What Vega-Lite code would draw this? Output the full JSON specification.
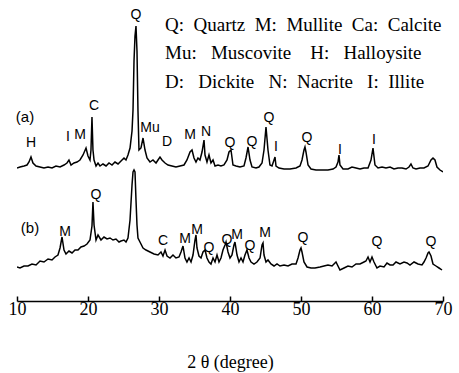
{
  "$schema": "https://vega.github.io/schema/vega-lite/v6.json",
  "width": 426,
  "height": 296,
  "autosize": "none",
  "padding": {"left": 17, "top": 5, "right": 16, "bottom": 72},
  "background": "white",
  "config": {"view": {"stroke": null}},
  "datasets": {
    "a": [
      {"theta": 10.0, "intensity": 133}, {"theta": 10.42, "intensity": 134}, {"theta": 10.99, "intensity": 135}, {"theta": 11.41, "intensity": 136},
      {"theta": 11.69, "intensity": 139}, {"theta": 11.97, "intensity": 144}, {"theta": 12.25, "intensity": 138}, {"theta": 12.68, "intensity": 135},
      {"theta": 13.24, "intensity": 134}, {"theta": 13.8, "intensity": 133}, {"theta": 14.37, "intensity": 134}, {"theta": 14.93, "intensity": 133},
      {"theta": 15.49, "intensity": 135}, {"theta": 16.06, "intensity": 134}, {"theta": 16.62, "intensity": 136}, {"theta": 17.04, "intensity": 138},
      {"theta": 17.32, "intensity": 141}, {"theta": 17.61, "intensity": 136}, {"theta": 18.03, "intensity": 138}, {"theta": 18.45, "intensity": 139},
      {"theta": 18.87, "intensity": 141}, {"theta": 19.3, "intensity": 146}, {"theta": 19.72, "intensity": 153}, {"theta": 20.0, "intensity": 145},
      {"theta": 20.28, "intensity": 141}, {"theta": 20.42, "intensity": 151}, {"theta": 20.56, "intensity": 184}, {"theta": 20.7, "intensity": 151},
      {"theta": 20.85, "intensity": 141}, {"theta": 21.13, "intensity": 135}, {"theta": 21.41, "intensity": 138}, {"theta": 21.69, "intensity": 135},
      {"theta": 22.11, "intensity": 137}, {"theta": 22.54, "intensity": 135}, {"theta": 22.96, "intensity": 138}, {"theta": 23.38, "intensity": 136},
      {"theta": 23.8, "intensity": 139}, {"theta": 24.23, "intensity": 137}, {"theta": 24.65, "intensity": 140}, {"theta": 25.07, "intensity": 143},
      {"theta": 25.35, "intensity": 141}, {"theta": 25.63, "intensity": 146}, {"theta": 25.92, "intensity": 153}, {"theta": 26.2, "intensity": 170},
      {"theta": 26.34, "intensity": 191}, {"theta": 26.48, "intensity": 240}, {"theta": 26.62, "intensity": 265}, {"theta": 26.76, "intensity": 275},
      {"theta": 26.9, "intensity": 250}, {"theta": 27.04, "intensity": 190}, {"theta": 27.18, "intensity": 151}, {"theta": 27.46, "intensity": 153},
      {"theta": 27.75, "intensity": 163}, {"theta": 28.03, "intensity": 151}, {"theta": 28.31, "intensity": 143}, {"theta": 28.73, "intensity": 139},
      {"theta": 29.15, "intensity": 141}, {"theta": 29.58, "intensity": 138}, {"theta": 29.86, "intensity": 141}, {"theta": 30.14, "intensity": 144},
      {"theta": 30.42, "intensity": 141}, {"theta": 30.85, "intensity": 138}, {"theta": 31.27, "intensity": 136}, {"theta": 31.83, "intensity": 135},
      {"theta": 32.39, "intensity": 134}, {"theta": 32.96, "intensity": 135}, {"theta": 33.52, "intensity": 136}, {"theta": 33.94, "intensity": 141},
      {"theta": 34.37, "intensity": 149}, {"theta": 34.65, "intensity": 151}, {"theta": 34.93, "intensity": 143}, {"theta": 35.21, "intensity": 139},
      {"theta": 35.49, "intensity": 143}, {"theta": 35.77, "intensity": 141}, {"theta": 36.06, "intensity": 149}, {"theta": 36.34, "intensity": 161},
      {"theta": 36.48, "intensity": 146}, {"theta": 36.76, "intensity": 139}, {"theta": 37.04, "intensity": 146}, {"theta": 37.32, "intensity": 138},
      {"theta": 37.61, "intensity": 141}, {"theta": 37.89, "intensity": 135}, {"theta": 38.31, "intensity": 136}, {"theta": 38.73, "intensity": 135},
      {"theta": 39.15, "intensity": 136}, {"theta": 39.58, "intensity": 141}, {"theta": 39.86, "intensity": 149}, {"theta": 40.14, "intensity": 151},
      {"theta": 40.42, "intensity": 136}, {"theta": 40.85, "intensity": 135}, {"theta": 41.41, "intensity": 134}, {"theta": 41.97, "intensity": 135},
      {"theta": 42.25, "intensity": 143}, {"theta": 42.54, "intensity": 154}, {"theta": 42.82, "intensity": 141}, {"theta": 43.1, "intensity": 134},
      {"theta": 43.66, "intensity": 133}, {"theta": 44.08, "intensity": 134}, {"theta": 44.51, "intensity": 138}, {"theta": 44.79, "intensity": 151},
      {"theta": 45.07, "intensity": 174}, {"theta": 45.35, "intensity": 151}, {"theta": 45.63, "intensity": 136}, {"theta": 45.92, "intensity": 135},
      {"theta": 46.2, "intensity": 141}, {"theta": 46.34, "intensity": 144}, {"theta": 46.48, "intensity": 135}, {"theta": 46.9, "intensity": 133},
      {"theta": 47.61, "intensity": 132}, {"theta": 48.45, "intensity": 132}, {"theta": 49.3, "intensity": 133}, {"theta": 49.86, "intensity": 135},
      {"theta": 50.14, "intensity": 141}, {"theta": 50.42, "intensity": 151}, {"theta": 50.56, "intensity": 154}, {"theta": 50.7, "intensity": 149},
      {"theta": 50.99, "intensity": 136}, {"theta": 51.41, "intensity": 132}, {"theta": 52.11, "intensity": 131}, {"theta": 52.96, "intensity": 131},
      {"theta": 53.8, "intensity": 131}, {"theta": 54.51, "intensity": 132}, {"theta": 54.93, "intensity": 134}, {"theta": 55.21, "intensity": 139},
      {"theta": 55.35, "intensity": 146}, {"theta": 55.49, "intensity": 136}, {"theta": 55.92, "intensity": 132}, {"theta": 56.62, "intensity": 132},
      {"theta": 57.18, "intensity": 134}, {"theta": 57.75, "intensity": 133}, {"theta": 58.31, "intensity": 132}, {"theta": 58.87, "intensity": 133},
      {"theta": 59.44, "intensity": 133}, {"theta": 59.86, "intensity": 141}, {"theta": 60.14, "intensity": 153}, {"theta": 60.42, "intensity": 136},
      {"theta": 60.85, "intensity": 133}, {"theta": 61.41, "intensity": 134}, {"theta": 61.97, "intensity": 133}, {"theta": 62.54, "intensity": 134},
      {"theta": 63.1, "intensity": 132}, {"theta": 63.66, "intensity": 133}, {"theta": 64.23, "intensity": 133}, {"theta": 64.79, "intensity": 132},
      {"theta": 65.21, "intensity": 134}, {"theta": 65.49, "intensity": 137}, {"theta": 65.77, "intensity": 133}, {"theta": 66.2, "intensity": 132},
      {"theta": 66.76, "intensity": 133}, {"theta": 67.32, "intensity": 133}, {"theta": 67.89, "intensity": 135}, {"theta": 68.31, "intensity": 141},
      {"theta": 68.59, "intensity": 143}, {"theta": 68.87, "intensity": 141}, {"theta": 69.15, "intensity": 134}, {"theta": 69.58, "intensity": 131},
      {"theta": 70.0, "intensity": 129}
    ],
    "b": [
      {"theta": 10.0, "intensity": 34}, {"theta": 10.42, "intensity": 33}, {"theta": 10.99, "intensity": 35}, {"theta": 11.55, "intensity": 35},
      {"theta": 12.11, "intensity": 37}, {"theta": 12.68, "intensity": 36}, {"theta": 13.24, "intensity": 40}, {"theta": 13.8, "intensity": 39},
      {"theta": 14.37, "intensity": 42}, {"theta": 14.93, "intensity": 41}, {"theta": 15.35, "intensity": 44}, {"theta": 15.77, "intensity": 46},
      {"theta": 16.06, "intensity": 53}, {"theta": 16.34, "intensity": 64}, {"theta": 16.62, "intensity": 51}, {"theta": 16.9, "intensity": 47},
      {"theta": 17.32, "intensity": 50}, {"theta": 17.75, "intensity": 48}, {"theta": 18.17, "intensity": 51}, {"theta": 18.59, "intensity": 51},
      {"theta": 19.01, "intensity": 54}, {"theta": 19.44, "intensity": 55}, {"theta": 19.86, "intensity": 57}, {"theta": 20.28, "intensity": 61},
      {"theta": 20.56, "intensity": 75}, {"theta": 20.7, "intensity": 99}, {"theta": 20.85, "intensity": 76}, {"theta": 21.13, "intensity": 61},
      {"theta": 21.41, "intensity": 66}, {"theta": 21.83, "intensity": 61}, {"theta": 22.25, "intensity": 64}, {"theta": 22.68, "intensity": 62},
      {"theta": 23.1, "intensity": 63}, {"theta": 23.52, "intensity": 61}, {"theta": 23.94, "intensity": 62}, {"theta": 24.37, "intensity": 59},
      {"theta": 24.65, "intensity": 60}, {"theta": 25.07, "intensity": 61}, {"theta": 25.35, "intensity": 59}, {"theta": 25.63, "intensity": 63},
      {"theta": 25.92, "intensity": 81}, {"theta": 26.2, "intensity": 116}, {"theta": 26.34, "intensity": 129}, {"theta": 26.48, "intensity": 131},
      {"theta": 26.62, "intensity": 129}, {"theta": 26.76, "intensity": 101}, {"theta": 26.9, "intensity": 76}, {"theta": 27.04, "intensity": 63},
      {"theta": 27.32, "intensity": 59}, {"theta": 27.75, "intensity": 53}, {"theta": 28.17, "intensity": 51}, {"theta": 28.73, "intensity": 49},
      {"theta": 29.3, "intensity": 47}, {"theta": 29.86, "intensity": 46}, {"theta": 30.28, "intensity": 49}, {"theta": 30.56, "intensity": 45},
      {"theta": 30.85, "intensity": 51}, {"theta": 31.13, "intensity": 45}, {"theta": 31.55, "intensity": 43}, {"theta": 31.97, "intensity": 46},
      {"theta": 32.39, "intensity": 43}, {"theta": 32.82, "intensity": 44}, {"theta": 33.1, "intensity": 49}, {"theta": 33.38, "intensity": 55},
      {"theta": 33.66, "intensity": 43}, {"theta": 33.94, "intensity": 39}, {"theta": 34.23, "intensity": 43}, {"theta": 34.51, "intensity": 39},
      {"theta": 34.79, "intensity": 46}, {"theta": 35.07, "intensity": 61}, {"theta": 35.21, "intensity": 66}, {"theta": 35.35, "intensity": 53},
      {"theta": 35.63, "intensity": 45}, {"theta": 35.92, "intensity": 43}, {"theta": 36.2, "intensity": 49}, {"theta": 36.48, "intensity": 51},
      {"theta": 36.76, "intensity": 43}, {"theta": 37.04, "intensity": 39}, {"theta": 37.32, "intensity": 37}, {"theta": 37.61, "intensity": 43},
      {"theta": 37.89, "intensity": 39}, {"theta": 38.17, "intensity": 46}, {"theta": 38.45, "intensity": 39}, {"theta": 38.73, "intensity": 43},
      {"theta": 39.01, "intensity": 51}, {"theta": 39.3, "intensity": 56}, {"theta": 39.44, "intensity": 59}, {"theta": 39.72, "intensity": 49},
      {"theta": 40.0, "intensity": 43}, {"theta": 40.28, "intensity": 46}, {"theta": 40.56, "intensity": 56}, {"theta": 40.7, "intensity": 59},
      {"theta": 40.99, "intensity": 46}, {"theta": 41.27, "intensity": 39}, {"theta": 41.55, "intensity": 43}, {"theta": 41.83, "intensity": 39},
      {"theta": 42.11, "intensity": 46}, {"theta": 42.39, "intensity": 51}, {"theta": 42.68, "intensity": 43}, {"theta": 42.96, "intensity": 39},
      {"theta": 43.38, "intensity": 37}, {"theta": 43.8, "intensity": 39}, {"theta": 44.23, "intensity": 43}, {"theta": 44.51, "intensity": 56},
      {"theta": 44.65, "intensity": 58}, {"theta": 44.79, "intensity": 46}, {"theta": 45.07, "intensity": 39}, {"theta": 45.35, "intensity": 41},
      {"theta": 45.77, "intensity": 37}, {"theta": 46.2, "intensity": 35}, {"theta": 46.62, "intensity": 37}, {"theta": 47.04, "intensity": 35},
      {"theta": 47.61, "intensity": 36}, {"theta": 48.17, "intensity": 35}, {"theta": 48.73, "intensity": 37}, {"theta": 49.3, "intensity": 37},
      {"theta": 49.58, "intensity": 43}, {"theta": 49.86, "intensity": 51}, {"theta": 50.0, "intensity": 53}, {"theta": 50.14, "intensity": 49},
      {"theta": 50.42, "intensity": 39}, {"theta": 50.85, "intensity": 34}, {"theta": 51.41, "intensity": 33}, {"theta": 51.97, "intensity": 33},
      {"theta": 52.68, "intensity": 34}, {"theta": 53.24, "intensity": 35}, {"theta": 53.8, "intensity": 36}, {"theta": 54.37, "intensity": 35},
      {"theta": 54.93, "intensity": 39}, {"theta": 55.49, "intensity": 31}, {"theta": 56.06, "intensity": 33}, {"theta": 56.62, "intensity": 35},
      {"theta": 57.18, "intensity": 34}, {"theta": 57.75, "intensity": 37}, {"theta": 58.31, "intensity": 37}, {"theta": 58.87, "intensity": 39},
      {"theta": 59.15, "intensity": 40}, {"theta": 59.44, "intensity": 44}, {"theta": 59.72, "intensity": 39}, {"theta": 60.0, "intensity": 44},
      {"theta": 60.28, "intensity": 39}, {"theta": 60.7, "intensity": 33}, {"theta": 61.13, "intensity": 35}, {"theta": 61.69, "intensity": 34},
      {"theta": 62.11, "intensity": 38}, {"theta": 62.54, "intensity": 36}, {"theta": 62.96, "intensity": 36}, {"theta": 63.38, "intensity": 39},
      {"theta": 63.94, "intensity": 37}, {"theta": 64.51, "intensity": 39}, {"theta": 64.93, "intensity": 38}, {"theta": 65.35, "intensity": 36},
      {"theta": 65.92, "intensity": 39}, {"theta": 66.48, "intensity": 37}, {"theta": 67.04, "intensity": 36}, {"theta": 67.32, "intensity": 39},
      {"theta": 67.61, "intensity": 43}, {"theta": 67.89, "intensity": 48}, {"theta": 68.03, "intensity": 49}, {"theta": 68.31, "intensity": 45},
      {"theta": 68.59, "intensity": 37}, {"theta": 69.01, "intensity": 35}, {"theta": 69.44, "intensity": 33}, {"theta": 69.86, "intensity": 31}
    ],
    "peaks": [
      {"label": "H", "theta": 11.97, "intensity": 158}, {"label": "I", "theta": 17.18, "intensity": 164},
      {"label": "M", "theta": 18.87, "intensity": 166}, {"label": "C", "theta": 20.85, "intensity": 195},
      {"label": "Q", "theta": 26.76, "intensity": 286}, {"label": "Mu", "theta": 28.73, "intensity": 173},
      {"label": "D", "theta": 31.13, "intensity": 159}, {"label": "M", "theta": 34.37, "intensity": 166},
      {"label": "N", "theta": 36.62, "intensity": 169}, {"label": "Q", "theta": 40.0, "intensity": 158},
      {"label": "Q", "theta": 43.1, "intensity": 159}, {"label": "Q", "theta": 45.49, "intensity": 183},
      {"label": "I", "theta": 46.48, "intensity": 154}, {"label": "Q", "theta": 50.85, "intensity": 163},
      {"label": "I", "theta": 55.49, "intensity": 151}, {"label": "I", "theta": 60.28, "intensity": 161},
      {"label": "M", "theta": 16.76, "intensity": 69}, {"label": "Q", "theta": 21.13, "intensity": 106},
      {"label": "C", "theta": 30.56, "intensity": 60}, {"label": "M", "theta": 33.66, "intensity": 62},
      {"label": "M", "theta": 35.35, "intensity": 71}, {"label": "Q", "theta": 37.04, "intensity": 53},
      {"label": "Q", "theta": 39.58, "intensity": 61}, {"label": "M", "theta": 40.99, "intensity": 66},
      {"label": "Q", "theta": 42.82, "intensity": 55}, {"label": "M", "theta": 44.93, "intensity": 68},
      {"label": "Q", "theta": 50.28, "intensity": 63}, {"label": "Q", "theta": 60.7, "intensity": 59},
      {"label": "Q", "theta": 68.31, "intensity": 59}
    ],
    "patterns": [
      {"label": "(a)", "theta": 11.13, "intensity": 184},
      {"label": "(b)", "theta": 11.83, "intensity": 73}
    ],
    "key": [
      {"label": "Q:\u00a0 Quartz\u00a0 M:\u00a0 Mullite\u00a0 Ca:\u00a0 Calcite", "theta": 30.85, "intensity": 276},
      {"label": "Mu:\u00a0\u00a0 Muscovite\u00a0\u00a0\u00a0 H:\u00a0\u00a0 Halloysite", "theta": 30.85, "intensity": 248},
      {"label": "D:\u00a0\u00a0 Dickite\u00a0\u00a0 N:\u00a0 Nacrite\u00a0\u00a0 I:\u00a0 Illite", "theta": 30.85, "intensity": 219}
    ]
  },
  "encoding": {
    "x": {
      "field": "theta", "type": "quantitative",
      "scale": {"domain": [10, 70], "nice": false, "zero": false},
      "axis": {
        "values": [10, 20, 30, 40, 50, 60, 70],
        "title": "2 θ (degree)",
        "grid": false,
        "domainColor": "black", "domainWidth": 1.5,
        "tickColor": "black", "tickWidth": 1.5, "tickSize": -5,
        "labelFont": "Liberation Serif", "labelFontSize": 18, "labelColor": "black", "labelPadding": 4, "labelFlush": false,
        "titleFont": "Liberation Serif", "titleFontSize": 18, "titleFontWeight": "normal", "titleColor": "black",
        "titleY": 66, "titleBaseline": "alphabetic"
      }
    },
    "y": {"field": "intensity", "type": "quantitative", "scale": {"domain": [0, 296], "nice": false, "zero": false}, "axis": null}
  },
  "layer": [
    {"data": {"name": "a"}, "mark": {"type": "line", "color": "black", "strokeWidth": 1.5, "clip": true}},
    {"data": {"name": "b"}, "mark": {"type": "line", "color": "black", "strokeWidth": 1.5, "clip": true}},
    {"data": {"name": "peaks"}, "mark": {"type": "text", "font": "Liberation Sans", "fontSize": 14, "color": "black", "baseline": "middle"}, "encoding": {"text": {"field": "label"}}},
    {"data": {"name": "patterns"}, "mark": {"type": "text", "font": "Liberation Sans", "fontSize": 15, "color": "black", "baseline": "middle"}, "encoding": {"text": {"field": "label"}}},
    {"data": {"name": "key"}, "mark": {"type": "text", "font": "Liberation Serif", "fontSize": 19, "color": "black", "align": "left", "baseline": "middle"}, "encoding": {"text": {"field": "label"}}}
  ]
}
